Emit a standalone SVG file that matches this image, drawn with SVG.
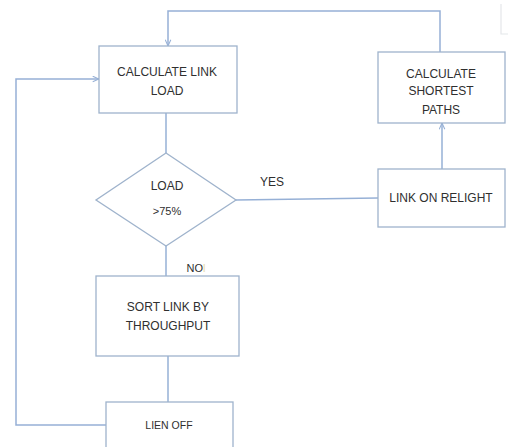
<svg xmlns="http://www.w3.org/2000/svg" width="508" height="447" viewBox="0 0 508 447">
<style>
.box{fill:#fff;stroke:#9fb3cc;stroke-width:1.3}
.ln{fill:none;stroke:#96b0d6;stroke-width:1.5}
text{font-family:"Liberation Sans",Arial,sans-serif;font-size:12px;fill:#2f2f2f;text-anchor:middle}
</style>
<defs>
<marker id="ah" viewBox="0 0 10 10" refX="10" refY="5" markerWidth="7" markerHeight="7" orient="auto" markerUnits="userSpaceOnUse">
<path d="M1,1 L10,5 L1,9" fill="none" stroke="#96b0d6" stroke-width="1.5"/>
</marker>
</defs>
<rect width="508" height="447" fill="#fff"/>
<g id="connectors">
<path class="ln" d="M440,52 V11 H168 V46" marker-end="url(#ah)"/>
<path class="ln" d="M442,169 V123" marker-end="url(#ah)"/>
<path class="ln" d="M236,200 L378,198"/>
<path class="ln" d="M166,113 V153"/>
<path class="ln" d="M166,246 V276"/>
<path class="ln" d="M168,356 V402"/>
<path class="ln" d="M106,425 H16 V79 H99" marker-end="url(#ah)"/>
<text x="272" y="186">YES</text>
<text x="196" y="272" style="font-size:11px">NO<tspan fill="#e8d9a8">l</tspan></text>
</g>
<g id="calc-link-load">
<rect class="box" x="99" y="46" width="138" height="67"/>
<text x="167" y="76">CALCULATE LINK</text>
<text x="167" y="95">LOAD</text>
</g>
<g id="load-decision">
<polygon class="box" points="166,153 236,200 166,246 96,200"/>
<text x="167" y="190">LOAD</text>
<text x="167" y="215" style="font-size:11px">&gt;75%</text>
</g>
<g id="calc-shortest">
<rect class="box" x="378" y="52" width="127" height="71"/>
<text x="441" y="78">CALCULATE</text>
<text x="441" y="95">SHORTEST</text>
<text x="441" y="114">PATHS</text>
</g>
<g id="link-on-relight">
<rect class="box" x="378" y="169" width="127" height="58"/>
<text x="441" y="202">LINK ON RELIGHT</text>
</g>
<g id="sort-link">
<rect class="box" x="96" y="276" width="143" height="80"/>
<text x="168" y="311">SORT LINK BY</text>
<text x="168" y="330">THROUGHPUT</text>
</g>
<g id="lien-off">
<rect class="box" x="106" y="402" width="127" height="60"/>
<text x="169" y="429" style="font-size:10.5px">LIEN OFF</text>
</g>
<path d="M501,4 V34 H508" fill="none" stroke="#e4e7ea" stroke-width="1.2"/>
</svg>
